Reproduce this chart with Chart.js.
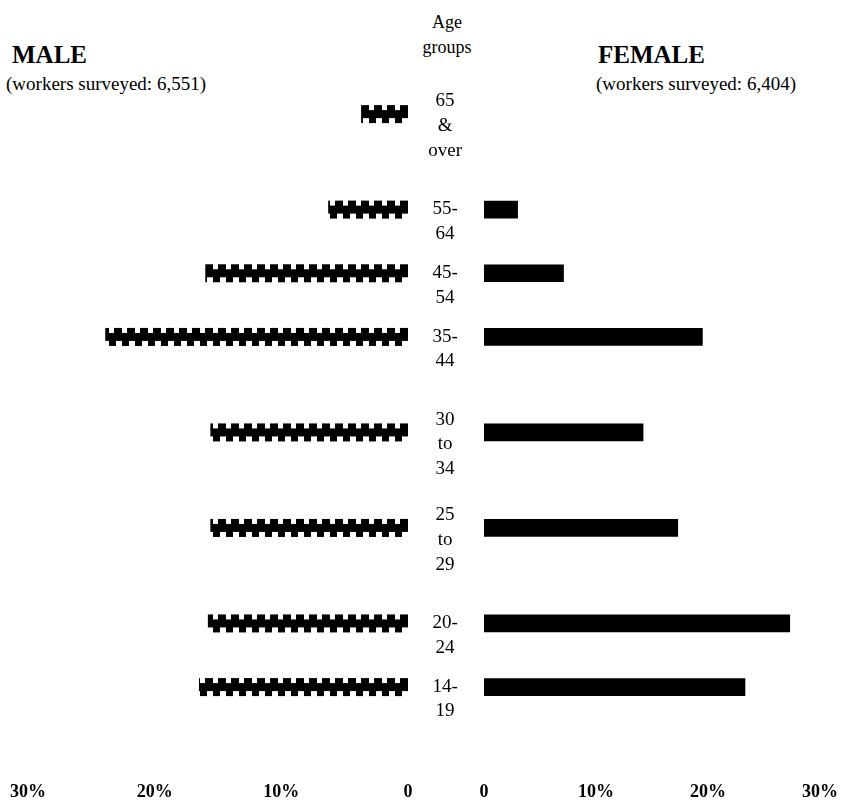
<!DOCTYPE html>
<html>
<head>
<meta charset="utf-8">
<script src="https://cdn.jsdelivr.net/npm/chart.js@4.4.1/dist/chart.umd.min.js"></script>
<style>
  html, body { margin: 0; padding: 0; background: #fff; }
  body { width: 842px; height: 805px; position: relative; overflow: hidden;
         font-family: "Liberation Serif", "DejaVu Serif", serif; color: #000; }
  canvas { position: absolute; top: 0; }
  #male-chart { left: 0; }
  #female-chart { left: 410px; }
  .txt { position: absolute; white-space: nowrap; line-height: 1; }
  .big { font-size: 25px; font-weight: bold; }
  .small { font-size: 19px; }
  .head { font-size: 18px; text-align: center; width: 100px; line-height: 25px; }
</style>
</head>
<body>
<div class="txt head" style="left:397px; top:10px;">Age<br>groups</div>
<div class="txt big" style="left:12px; top:42px;">MALE</div>
<div class="txt small" style="left:6px; top:74px;">(workers surveyed: 6,551)</div>
<div class="txt big" style="left:598px; top:42px;">FEMALE</div>
<div class="txt small" style="left:596px; top:74px;">(workers surveyed: 6,404)</div>

<canvas id="male-chart" width="420" height="805"></canvas>
<canvas id="female-chart" width="432" height="805"></canvas>

<script>
// age groups, oldest at the top
const ageLabels = [
  ["65", "&", "over"],
  ["55-", "64"],
  ["45-", "54"],
  ["35-", "44"],
  ["30", "to", "34"],
  ["25", "to", "29"],
  ["20-", "24"],
  ["14-", "19"],
];
// share of workers surveyed, %
const malePct = [3.7, 6.3, 16.0, 23.9, 15.6, 15.6, 15.8, 16.5];
const femalePct = [0, 3.0, 7.1, 19.5, 14.2, 17.3, 27.3, 23.3];
// bottom axis
const tickValues = [0, 10, 20, 30];
const tickLabels = ["0", "10%", "20%", "30%"];

const SERIF = "'Liberation Serif', 'DejaVu Serif', serif";
Chart.defaults.font.family = SERIF;
Chart.defaults.color = "#000";

// rows are spaced by the taller of two neighbouring labels (2 or 3 lines)
const groupPos = [0];
for (let i = 1; i < ageLabels.length; i++) {
  const step = Math.max(ageLabels[i - 1].length, ageLabels[i].length);
  groupPos.push(groupPos[i - 1] + step);
}

function yScale(showLabels) {
  return {
    type: "linear",
    reverse: true,
    offset: false,
    min: -1.7,
    max: 20.9,
    display: showLabels,
    grid: { display: false, drawTicks: false },
    border: { display: false },
    afterBuildTicks: (scale) => {
      scale.ticks = groupPos.map((v) => ({ value: v }));
    },
    afterFit: (scale) => {
      if (showLabels) scale.width = 74;
      scale.paddingTop = 0;
      scale.paddingBottom = 0;
    },
    ticks: {
      crossAlign: "center",
      padding: 22,
      labelOffset: 12,
      font: { size: 19, lineHeight: 1.3 },
      callback: (v, i) => ageLabels[i],
    },
  };
}

function xScale(reverse) {
  return {
    type: "linear",
    min: 0,
    max: 30,
    reverse,
    grid: { display: false, drawTicks: false },
    border: { display: false },
    afterBuildTicks: (scale) => {
      scale.ticks = tickValues.map((v) => ({ value: v }));
    },
    ticks: {
      padding: 2,
      maxRotation: 0,
      font: { size: 18, weight: "bold" },
      callback: (v) => tickLabels[tickValues.indexOf(v)],
    },
  };
}

// male bars are printed as a wavy band (thick square wave)
const wavyBars = {
  id: "wavyBars",
  afterDatasetsDraw(chart) {
    const meta = chart.getDatasetMeta(0);
    const ctx = chart.ctx;
    const period = 13;
    ctx.save();
    ctx.fillStyle = "#000";
    meta.data.forEach((el) => {
      const { x, y, base } = el.getProps(["x", "y", "base"], true);
      const left = Math.min(x, base);
      const right = Math.max(x, base);
      if (right - left < 1) return;
      ctx.fillRect(left, y - 4, right - left, 8);
      for (let r = right; r > left; r -= period) {
        const w1 = Math.min(8, r - left);
        ctx.fillRect(r - w1, y - 9, w1, 6);
        const b0 = r - 6;
        const w2 = Math.min(7, b0 - left);
        if (w2 > 0) ctx.fillRect(b0 - w2, y + 3, w2, 6);
      }
    });
    ctx.restore();
  },
};

new Chart(document.getElementById("male-chart"), {
  type: "bar",
  data: {
    datasets: [
      {
        label: "Male",
        data: malePct.map((v, i) => ({ x: v, y: groupPos[i] })),
        backgroundColor: "rgba(0,0,0,0)",
        borderWidth: 0,
        barThickness: 18,
      },
    ],
  },
  options: {
    indexAxis: "y",
    responsive: false,
    animation: false,
    layout: { padding: { top: 60, bottom: 0, left: 28, right: 12 } },
    plugins: { legend: { display: false }, tooltip: { enabled: false } },
    scales: { x: xScale(true), y: yScale(false) },
  },
  plugins: [wavyBars],
});

new Chart(document.getElementById("female-chart"), {
  type: "bar",
  data: {
    datasets: [
      {
        label: "Female",
        data: femalePct.map((v, i) => ({ x: v, y: groupPos[i] })),
        backgroundColor: (c) => (c.raw && c.raw.x > 0 ? "#000" : "rgba(0,0,0,0)"),
        borderWidth: 0,
        barThickness: 17,
      },
    ],
  },
  options: {
    indexAxis: "y",
    responsive: false,
    animation: false,
    layout: { padding: { top: 60, bottom: 0, left: 0, right: 22 } },
    plugins: { legend: { display: false }, tooltip: { enabled: false } },
    scales: { x: xScale(false), y: yScale(true) },
  },
});
</script>
</body>
</html>
